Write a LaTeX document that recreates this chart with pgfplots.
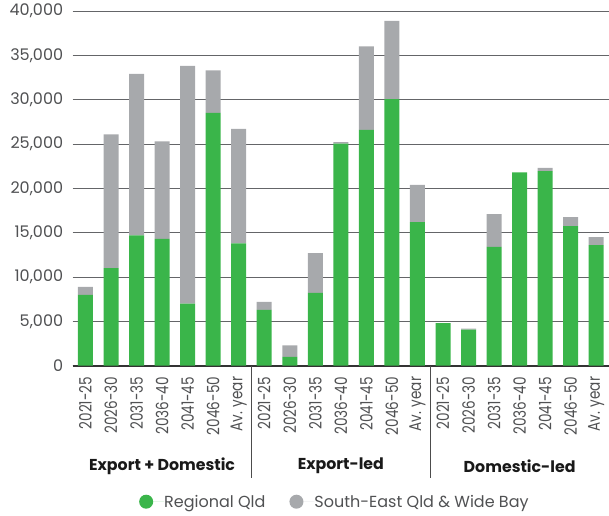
\documentclass[border=0pt]{standalone}
\usepackage{pgfplots}
\pgfplotsset{compat=1.18}
\usepackage{fontspec}
\setmainfont{Poppins}
\definecolor{qgreen}{RGB}{58,181,74}
\definecolor{qgray}{RGB}{167,169,172}
\definecolor{tickgray}{RGB}{80,81,83}
\definecolor{gridgray}{RGB}{100,101,104}
\newcommand\xl[1]{\scalebox{0.8}[1]{#1}}
\begin{document}
\begin{tikzpicture}
\path[use as bounding box] (-72.7pt,-149.3pt) rectangle (536.3pt,365.7pt);
\begin{axis}[
  scale only axis,
  width=536.3pt, height=354.7pt,
  xmin=-0.5, xmax=20.5, ymin=0, ymax=40000,
  ybar stacked, bar width=15pt,
  clip=false,
  axis y line*=left,
  axis x line*=bottom,
  y axis line style={draw=none},
  x axis line style={color=black!80, line width=1.7pt, -},
  ymajorgrids, grid style={color=gridgray, line width=0.9pt},
  major tick length=0pt,
  ytick={0,5000,...,40000},
  scaled y ticks=false,
  /pgf/number format/.cd, 1000 sep={,}, assume math mode=true, /pgfplots/.cd,
  yticklabel style={font=\fontsize{16}{18}\selectfont, color=tickgray, anchor=east, inner sep=0pt, xshift=-9.4pt},
  xtick={0,...,20},
  xticklabels={\xl{2021-25},\xl{2026-30},\xl{2031-35},\xl{2036-40},\xl{2041-45},\xl{2046-50},\xl{Av. year},
               \xl{2021-25},\xl{2026-30},\xl{2031-35},\xl{2036-40},\xl{2041-45},\xl{2046-50},\xl{Av. year},
               \xl{2021-25},\xl{2026-30},\xl{2031-35},\xl{2036-40},\xl{2041-45},\xl{2046-50},\xl{Av. year}},
  xticklabel style={font=\fontsize{17}{19}\selectfont, color=tickgray, yshift=-11pt, rotate=90, anchor=east, inner sep=0pt},
  legend columns=2,
  legend style={draw=none, fill=none, inner sep=0pt, at={(axis description cs:0.1236,-0.3834)}, anchor=west,
    font=\fontsize{16}{18}\selectfont, text=tickgray, nodes={inner sep=0pt},
    /tikz/every even column/.append style={column sep=24pt}},
]
\addplot[fill=qgreen, draw=none,
  legend image code/.code={\fill[qgreen] (7pt,0pt) circle (7pt); \path (0pt,0pt) -- (25pt,0pt);}]
  coordinates {(0,8000) (1,11000) (2,14700) (3,14300) (4,7000) (5,28500) (6,13800)
               (7,6300) (8,1000) (9,8200) (10,25050) (11,26600) (12,30050) (13,16200)
               (14,4800) (15,4060) (16,13400) (17,21800) (18,21950) (19,15750) (20,13600)};
\addlegendentry{Regional Qld}
\addplot[fill=qgray, draw=none,
  legend image code/.code={\fill[qgray] (7pt,0pt) circle (7pt); \path (0pt,0pt) -- (25pt,0pt);}]
  coordinates {(0,900) (1,15100) (2,18200) (3,11000) (4,26800) (5,4800) (6,12900)
               (7,900) (8,1300) (9,4500) (10,150) (11,9400) (12,8850) (13,4200)
               (14,0) (15,110) (16,3700) (17,0) (18,350) (19,1010) (20,900)};
\addlegendentry{South-East Qld \& Wide Bay}
\draw[color=black!70, line width=1.2pt] (axis cs:6.5,0) -- ++(0pt,-112.6pt);
\draw[color=black!70, line width=1.2pt] (axis cs:13.5,0) -- ++(0pt,-112.6pt);
\node[font=\fontsize{15.8}{17}\selectfont\bfseries, text=black!90] at ([yshift=-100.3pt]axis cs:3,0) {Export + Domestic};
\node[font=\fontsize{15.8}{17}\selectfont\bfseries, text=black!90] at ([yshift=-100.3pt]axis cs:10,0) {Export-led};
\node[font=\fontsize{15.8}{17}\selectfont\bfseries, text=black!90] at ([yshift=-100.3pt]axis cs:17,0) {Domestic-led};
\end{axis}
\end{tikzpicture}
\end{document}
